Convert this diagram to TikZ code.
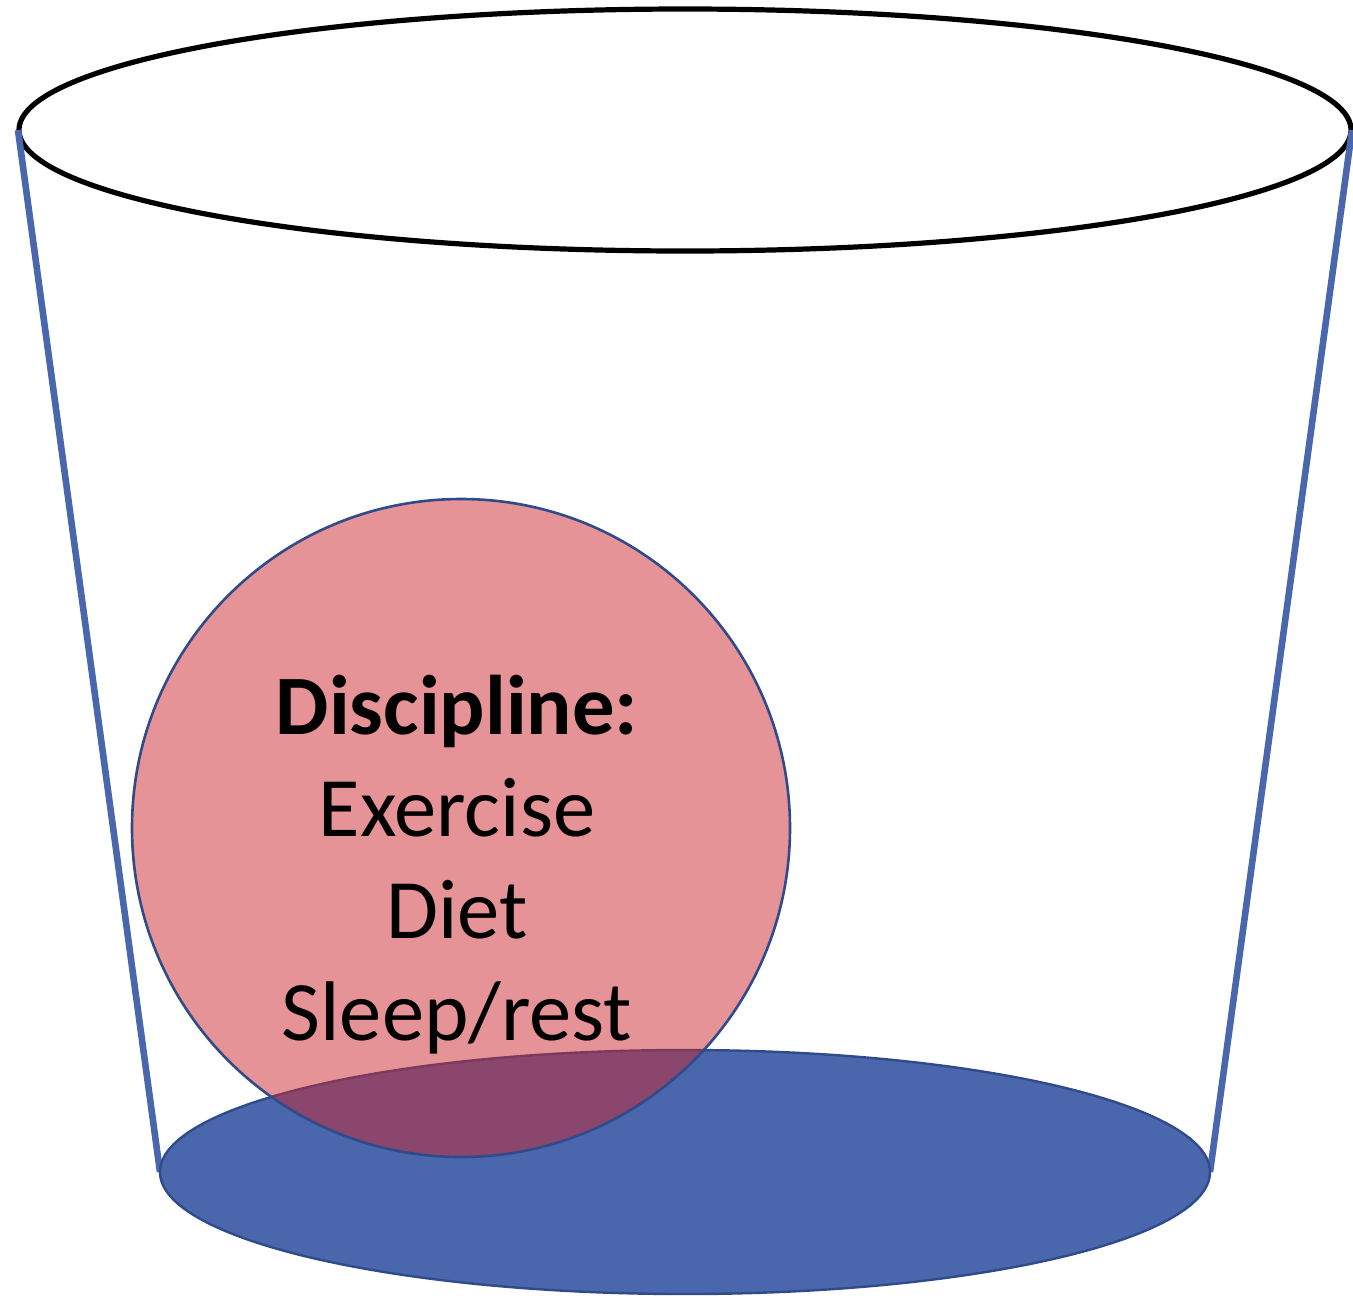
\documentclass[tikz,border=0pt]{standalone}
\usepackage{fontspec}
\setmainfont{Carlito}
\begin{document}
\definecolor{bucketblue}{RGB}{74,103,173}
\definecolor{rimblue}{RGB}{47,75,138}
\definecolor{ballred}{RGB}{203,39,45}
\begin{tikzpicture}[x=0.5pt,y=-0.5pt,
  rim/.style={draw=black,line width=2.6pt},
  side/.style={draw=bucketblue,line width=3.3pt},
  base/.style={fill=bucketblue,draw=rimblue,line width=1.2pt},
  ball/.style={circle,fill=ballred,fill opacity=0.5,draw=rimblue,line width=1.3pt,minimum size=329pt,inner sep=0pt},
  label/.style={align=center,font=\fontsize{42.3}{51}\selectfont}]
  \useasboundingbox (0,0) rectangle (1353,1297);
  % bucket rim and sides
  \draw[rim] (685,130) ellipse [x radius=666, y radius=121];
  \coordinate (tl) at (18,130);
  \coordinate (tr) at (1352,130);
  \coordinate (bl) at (160,1172);
  \coordinate (br) at (1210,1172);
  \draw[side] (tl) -- (bl);
  \draw[side] (tr) -- (br);
  % bucket bottom
  \draw[base] (685,1172) ellipse [x radius=525, y radius=122];
  % the ball in the bucket
  \node[ball] (ball) at (461,828) {};
  \node[label,anchor=base] (txt) at (457,1040) {\textbf{Discipline:}\\Exercise\\Diet\\Sleep/rest};
\end{tikzpicture}
\end{document}
